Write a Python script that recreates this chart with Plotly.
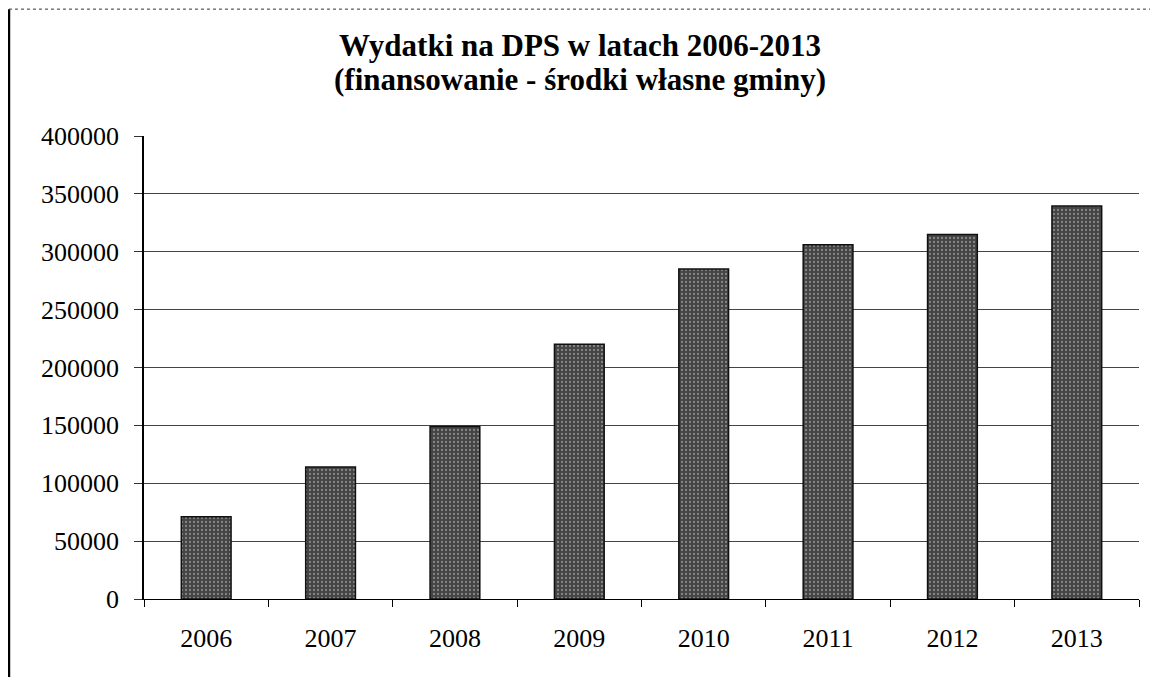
import plotly.graph_objects as go

years = ["2006", "2007", "2008", "2009", "2010", "2011", "2012", "2013"]
wydatki = [71000, 114000, 149000, 220000, 285000, 306000, 315000, 339500]
y_ticks = [0, 50000, 100000, 150000, 200000, 250000, 300000, 350000, 400000]

title_lines = ["Wydatki na DPS w latach 2006-2013", "(finansowanie - środki własne gminy)"]

SERIF = "Liberation Serif, Times New Roman, serif"

fig = go.Figure()
fig.add_trace(go.Bar(
    x=years,
    y=wydatki,
    marker=dict(
        color="#444444",
        line=dict(color="#111111", width=1.5),
        pattern=dict(shape=".", fgcolor="#c8c8c8", size=4, solidity=0.25),
    ),
))

# page has an 8px body margin, so margins are set 8px smaller than the target
fig.update_layout(
    width=1158,
    height=677,
    margin=dict(l=136, r=27, t=128, b=86),
    paper_bgcolor="white",
    plot_bgcolor="white",
    bargap=0.6,
    showlegend=False,
    font=dict(family=SERIF, size=26, color="black"),
)

# two title lines as separate annotations (tighter line spacing than title)
for txt, yy in zip(title_lines, [1.1965, 1.121]):
    fig.add_annotation(
        text=f"<b>{txt}</b>", xref="paper", yref="paper",
        x=0.438, y=yy, xanchor="center", yanchor="middle",
        showarrow=False, font=dict(family=SERIF, size=31, color="black"),
    )

fig.update_xaxes(
    showline=True, linecolor="black", linewidth=1,
    ticks="outside", tickson="boundaries", ticklen=7, tickcolor="black",
    ticklabelstandoff=16,
    showgrid=False,
    automargin=False,
)
fig.update_yaxes(
    range=[0, 400000],
    tickvals=y_ticks,
    tickformat="d",
    showline=True, linecolor="black", linewidth=1.5,
    ticks="outside", ticklen=8, tickcolor="#333",
    ticklabelstandoff=10,
    showgrid=True, gridcolor="#444", gridwidth=1,
    zeroline=False,
    automargin=False,
)

# scanned frame edges: left and top
fig.add_shape(type="line", xref="paper", yref="paper",
              x0=-0.1357, x1=-0.1357, y0=1.274, y1=-0.19,
              line=dict(color="black", width=2.5))
fig.add_shape(type="line", xref="paper", yref="paper",
              x0=-0.1357, x1=1.03, y0=1.274, y1=1.274,
              line=dict(color="#333", width=1, dash="dot"))

fig.write_html("out.html")
